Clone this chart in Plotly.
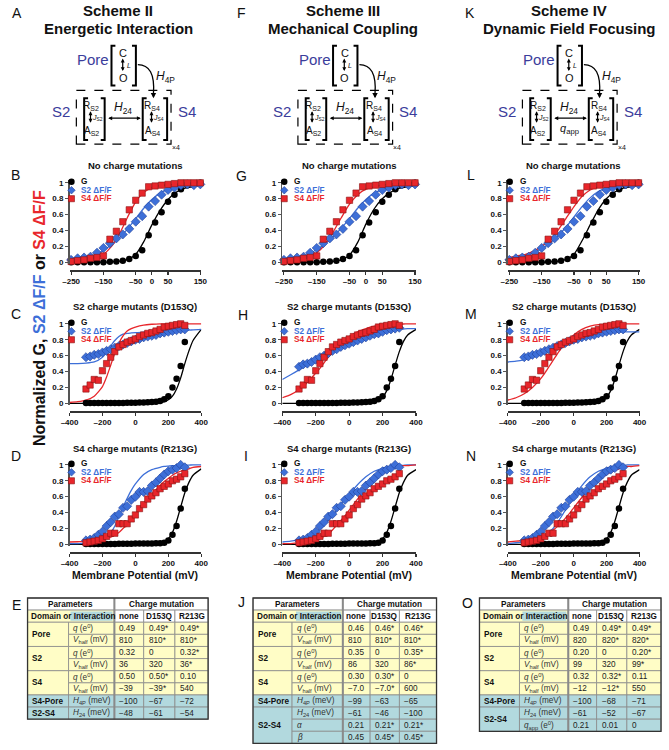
import plotly.graph_objects as go

W, H = 669, 750
FONT = "Arial, Liberation Sans, sans-serif"
BLUE = "#3d6fd8"
BLUE_EDGE = "#203f98"
RED = "#e8262b"
RED_EDGE = "#8b1212"
SCHEME_BLUE = "#3b3d9b"
YEL = "#fffdc6"
TEAL = "#b2d9de"

# ------------------------------------------------------------------ data
# Row 1: no charge mutations (experimental data, same in all schemes)
V_NOMUT = [-250, -230, -210, -190, -170, -150, -130, -110, -90, -70, -50, -30, -10, 10, 30, 50, 70, 90, 110, 130, 150]
G_NOMUT = [0, 0, 0, 0, 0, 0, 0.005, 0.01, 0.02, 0.04, 0.08, 0.15, 0.34, 0.50, 0.63, 0.76, 0.85, 0.92, 0.97, 0.99, 1.0]
S2_NOMUT = [0.03, 0.05, 0.06, 0.07, 0.12, 0.18, 0.24, 0.30, 0.35, 0.42, 0.51, 0.58, 0.70, 0.77, 0.85, 0.91, 0.94, 0.97, 0.98, 0.97, 0.98]
S4_NOMUT = [0.01, 0.02, 0.03, 0.05, 0.06, 0.08, 0.29, 0.39, 0.51, 0.66, 0.78, 0.87, 0.95, 0.96, 0.97, 0.98, 0.99, 1.0, 1.0, 1.0, 1.0]

# Rows 2-3: mutants
V_MUT = [-300, -275, -250, -225, -200, -175, -150, -125, -100, -75, -50, -25, 0, 25, 50, 75, 100, 125, 150, 175, 200, 225, 250, 275, 300]
G_D153Q = [0.005, 0.005, 0.005, 0.005, 0.005, 0.005, 0.005, 0.005, 0.005, 0.005, 0.007, 0.007, 0.008, 0.01, 0.01, 0.012, 0.015, 0.02, 0.03, 0.05, 0.09, 0.20, 0.31, 0.47, 0.77]
S2_D153Q = [0.58, 0.59, 0.61, 0.62, 0.64, 0.66, 0.68, 0.70, 0.72, 0.74, 0.76, 0.78, 0.80, 0.81, 0.83, 0.84, 0.85, 0.86, 0.88, 0.89, 0.90, 0.91, 0.92, 0.93, 0.93]
S2_D153Q_III = [0.46, 0.49, 0.50, 0.52, 0.55, 0.58, 0.60, 0.63, 0.66, 0.68, 0.71, 0.73, 0.75, 0.77, 0.79, 0.81, 0.83, 0.85, 0.87, 0.88, 0.90, 0.92, 0.93, 0.94, 0.95]
S4_D153Q = [0.18, 0.23, 0.30, 0.29, 0.41, 0.50, 0.58, 0.65, 0.71, 0.74, 0.77, 0.79, 0.81, 0.84, 0.86, 0.88, 0.89, 0.91, 0.93, 0.96, 0.97, 0.98, 0.99, 1.0, 0.98]
G_R213G = [0.005, 0.005, 0.005, 0.005, 0.005, 0.005, 0.005, 0.005, 0.007, 0.007, 0.008, 0.008, 0.01, 0.01, 0.01, 0.012, 0.012, 0.015, 0.015, 0.02, 0.05, 0.12, 0.23, 0.45, 0.70]
S2_R213G = [0.05, 0.06, 0.08, 0.12, 0.16, 0.23, 0.28, 0.35, 0.38, 0.46, 0.48, 0.56, 0.60, 0.66, 0.66, 0.67, 0.74, 0.78, 0.83, 0.88, 0.92, 0.94, 0.96, 1.0, 0.97]
S4_R213G = [0.02, 0.03, 0.04, 0.05, 0.07, 0.10, 0.14, 0.14, 0.26, 0.26, 0.26, 0.32, 0.37, 0.45, 0.50, 0.57, 0.61, 0.65, 0.70, 0.73, 0.76, 0.80, 0.82, 0.85, 0.89]

# Model fit curves
FIT_V_NARROW = [-250, -225, -200, -175, -150, -125, -100, -75, -50, -25, 0, 25, 50, 75, 100, 125, 150]
FIT_B_G = [0, 0, 0, 0.001, 0.002, 0.005, 0.013, 0.035, 0.10, 0.26, 0.47, 0.65, 0.79, 0.88, 0.93, 0.95, 0.97]
FIT_B_S2 = [0.03, 0.04, 0.06, 0.09, 0.15, 0.22, 0.31, 0.42, 0.55, 0.68, 0.79, 0.87, 0.92, 0.95, 0.96, 0.97, 0.97]
FIT_B_S4 = [0.01, 0.015, 0.03, 0.05, 0.10, 0.20, 0.36, 0.57, 0.76, 0.88, 0.94, 0.965, 0.975, 0.98, 0.985, 0.99, 0.99]
FIT_G_G = [0, 0, 0, 0.001, 0.002, 0.005, 0.012, 0.03, 0.09, 0.25, 0.48, 0.67, 0.80, 0.88, 0.93, 0.95, 0.96]
FIT_G_S2 = [0.04, 0.05, 0.07, 0.10, 0.16, 0.23, 0.32, 0.43, 0.55, 0.68, 0.79, 0.87, 0.91, 0.94, 0.95, 0.96, 0.96]
FIT_G_S4 = [0.01, 0.02, 0.03, 0.06, 0.12, 0.22, 0.38, 0.56, 0.73, 0.85, 0.92, 0.95, 0.97, 0.98, 0.98, 0.99, 0.99]
FIT_L_G = [0, 0, 0, 0.001, 0.002, 0.005, 0.013, 0.035, 0.10, 0.27, 0.47, 0.66, 0.80, 0.88, 0.93, 0.95, 0.97]
FIT_L_S2 = [0.05, 0.06, 0.08, 0.12, 0.17, 0.24, 0.33, 0.44, 0.57, 0.70, 0.81, 0.89, 0.93, 0.95, 0.96, 0.97, 0.97]
FIT_L_S4 = [0.06, 0.08, 0.10, 0.14, 0.20, 0.28, 0.40, 0.55, 0.70, 0.83, 0.91, 0.95, 0.97, 0.98, 0.98, 0.99, 0.99]

FIT_V_WIDE = [-400, -350, -300, -250, -200, -175, -150, -125, -100, -75, -50, -25, 0, 50, 100, 150, 175, 200, 225, 250, 275, 300, 325, 350, 400]
FIT_C_G = [0, 0, 0, 0, 0, 0, 0, 0, 0, 0, 0, 0, 0, 0.001, 0.003, 0.01, 0.02, 0.045, 0.09, 0.18, 0.32, 0.50, 0.66, 0.79, 0.93]
FIT_C_S2 = [0.50, 0.50, 0.505, 0.52, 0.58, 0.64, 0.72, 0.79, 0.84, 0.87, 0.88, 0.885, 0.89, 0.895, 0.90, 0.905, 0.91, 0.91, 0.915, 0.915, 0.92, 0.92, 0.92, 0.925, 0.93]
FIT_C_S4 = [0.01, 0.02, 0.04, 0.09, 0.21, 0.33, 0.48, 0.63, 0.76, 0.85, 0.91, 0.94, 0.96, 0.985, 0.995, 1, 1, 1, 1, 1, 1, 1, 1, 1, 1]
FIT_H_G = [0, 0, 0, 0, 0, 0, 0, 0, 0, 0, 0, 0, 0, 0.001, 0.004, 0.015, 0.035, 0.075, 0.16, 0.30, 0.48, 0.65, 0.78, 0.86, 0.93]
FIT_H_S2 = [0.30, 0.36, 0.42, 0.48, 0.54, 0.57, 0.60, 0.63, 0.66, 0.69, 0.72, 0.745, 0.77, 0.81, 0.85, 0.88, 0.89, 0.90, 0.91, 0.92, 0.925, 0.93, 0.935, 0.94, 0.94]
FIT_H_S4 = [0.07, 0.11, 0.17, 0.26, 0.38, 0.44, 0.51, 0.58, 0.64, 0.70, 0.75, 0.80, 0.84, 0.90, 0.94, 0.97, 0.98, 0.985, 0.99, 0.993, 0.995, 0.997, 0.998, 1, 1]
FIT_M_G = [0, 0, 0, 0, 0, 0, 0, 0, 0, 0, 0, 0, 0, 0.001, 0.004, 0.015, 0.035, 0.075, 0.16, 0.30, 0.48, 0.65, 0.78, 0.86, 0.93]
FIT_M_S2 = [0.52, 0.53, 0.55, 0.58, 0.62, 0.64, 0.67, 0.70, 0.73, 0.76, 0.79, 0.815, 0.84, 0.87, 0.885, 0.89, 0.892, 0.894, 0.896, 0.898, 0.899, 0.90, 0.90, 0.90, 0.90]
FIT_M_S4 = [0.04, 0.07, 0.12, 0.20, 0.31, 0.38, 0.46, 0.54, 0.62, 0.69, 0.76, 0.81, 0.86, 0.93, 0.97, 0.99, 0.99, 1, 1, 1, 1, 1, 1, 1, 1]
FIT_D_G = [0, 0, 0, 0, 0, 0, 0, 0, 0, 0, 0, 0, 0, 0.001, 0.003, 0.012, 0.03, 0.07, 0.15, 0.29, 0.47, 0.65, 0.78, 0.87, 0.95]
FIT_D_S2 = [0.01, 0.01, 0.015, 0.025, 0.05, 0.08, 0.14, 0.23, 0.35, 0.47, 0.58, 0.68, 0.76, 0.88, 0.94, 0.97, 0.98, 0.985, 0.99, 0.993, 0.995, 0.997, 0.998, 1, 1]
FIT_D_S4 = [0.03, 0.033, 0.037, 0.045, 0.06, 0.075, 0.09, 0.12, 0.15, 0.20, 0.25, 0.31, 0.38, 0.50, 0.63, 0.74, 0.79, 0.83, 0.87, 0.90, 0.92, 0.94, 0.95, 0.97, 0.98]
FIT_I_G = [0, 0, 0, 0, 0, 0, 0, 0, 0, 0, 0, 0, 0, 0.001, 0.003, 0.012, 0.03, 0.07, 0.15, 0.29, 0.47, 0.65, 0.78, 0.87, 0.94]
FIT_I_S2 = [0.03, 0.04, 0.06, 0.10, 0.15, 0.19, 0.24, 0.30, 0.36, 0.43, 0.50, 0.57, 0.63, 0.75, 0.85, 0.92, 0.94, 0.96, 0.97, 0.98, 0.985, 0.99, 0.995, 1, 1]
FIT_I_S4 = [0.01, 0.01, 0.02, 0.03, 0.05, 0.07, 0.10, 0.13, 0.18, 0.24, 0.30, 0.36, 0.43, 0.57, 0.70, 0.80, 0.85, 0.89, 0.92, 0.95, 0.97, 0.98, 0.99, 0.99, 1]
FIT_N_G = [0, 0, 0, 0, 0, 0, 0, 0, 0, 0, 0, 0, 0, 0.001, 0.003, 0.012, 0.03, 0.07, 0.15, 0.29, 0.47, 0.65, 0.78, 0.87, 0.94]
FIT_N_S2 = [0.01, 0.02, 0.03, 0.05, 0.08, 0.11, 0.15, 0.20, 0.27, 0.35, 0.43, 0.52, 0.60, 0.74, 0.85, 0.92, 0.94, 0.96, 0.97, 0.98, 0.99, 0.99, 1, 1, 1]
FIT_N_S4 = [0.03, 0.04, 0.05, 0.07, 0.09, 0.11, 0.14, 0.18, 0.22, 0.27, 0.33, 0.39, 0.46, 0.59, 0.71, 0.80, 0.84, 0.88, 0.91, 0.93, 0.95, 0.97, 0.98, 0.98, 0.99]

ROW_TITLES = ["No charge mutations", "S2 charge mutants (D153Q)", "S4 charge mutants (R213G)"]
ROW_XTICKS = [[-250, -150, -50, 0, 50, 150], [-400, -200, 0, 200, 400], [-400, -200, 0, 200, 400]]
ROW_XTICKTEXT = [["–250", "–150", "–50", "0", "50", "150"], ["–400", "–200", "0", "200", "400"], ["–400", "–200", "0", "200", "400"]]
ROW_XRANGE = [[-255, 153], [-400, 400], [-400, 400]]
Y_TICKS = [0, 0.2, 0.4, 0.6, 0.8, 1]
Y_TICKTEXT = ["0", "0.2", "0.4", "0.6", "0.8", "1"]
LEGEND_LABELS = ["G", "S2 ΔF/F", "S4 ΔF/F"]
PANEL_LETTERS = [["B", "G", "L"], ["C", "H", "M"], ["D", "I", "N"]]

SCHEME_NAMES = ["Scheme II", "Scheme III", "Scheme IV"]
SCHEME_SUBTITLES = ["Energetic Interaction", "Mechanical Coupling", "Dynamic Field Focusing"]
SCHEME_LETTERS = ["A", "F", "K"]
TABLE_LETTERS = ["E", "J", "O"]
MUTATIONS = ["none", "D153Q", "R213G"]

LBL_Q = "<i>q</i> (e<sup>0</sup>)"
LBL_V = "<i>V</i><sub>half</sub> (mV)"
LBL_H4P = "<i>H</i><sub>4P</sub> (meV)"
LBL_H24 = "<i>H</i><sub>24</sub> (meV)"
LBL_A = "<i>α</i>"
LBL_B = "<i>β</i>"
LBL_QAPP = "<i>q</i><sub>app</sub> (e<sup>0</sup>)"

E_DOMAINS = [("Pore", 2), ("S2", 2), ("S4", 2), ("S4-Pore", 1), ("S2-S4", 1)]
E_PARAMS = [LBL_Q, LBL_V, LBL_Q, LBL_V, LBL_Q, LBL_V, LBL_H4P, LBL_H24]
E_NONE = ["0.49", "810", "0.32", "36", "0.50", "−39", "−100", "−48"]
E_D153Q = ["0.49*", "810*", "0", "320", "0.50*", "−39*", "−67", "−61"]
E_R213G = ["0.49*", "810*", "0.32*", "36*", "0.10", "540", "−72", "−54"]

J_DOMAINS = [("Pore", 2), ("S2", 2), ("S4", 2), ("S4-Pore", 1), ("S2-S4", 3)]
J_PARAMS = [LBL_Q, LBL_V, LBL_Q, LBL_V, LBL_Q, LBL_V, LBL_H4P, LBL_H24, LBL_A, LBL_B]
J_NONE = ["0.46", "810", "0.35", "86", "0.30", "−7.0", "−99", "−61", "0.21", "0.45"]
J_D153Q = ["0.46*", "810*", "0", "320", "0.30*", "−7.0*", "−63", "−46", "0.21*", "0.45*"]
J_R213G = ["0.46*", "810*", "0.35*", "86*", "0", "600", "−65", "−100", "0.21*", "0.45*"]

O_DOMAINS = [("Pore", 2), ("S2", 2), ("S4", 2), ("S4-Pore", 1), ("S2-S4", 2)]
O_PARAMS = [LBL_Q, LBL_V, LBL_Q, LBL_V, LBL_Q, LBL_V, LBL_H4P, LBL_H24, LBL_QAPP]
O_NONE = ["0.49", "820", "0.20", "99", "0.32", "−12", "−100", "−61", "0.21"]
O_D153Q = ["0.49*", "820*", "0", "320", "0.32*", "−12*", "−68", "−52", "0.01"]
O_R213G = ["0.49*", "820*", "0.20*", "99*", "0.11", "550", "−71", "−67", "0"]

# ------------------------------------------------------------------ geometry (window pixels)
COL_X = [(62, 197), (280, 417), (511, 646)]
ROW_Y = [(182, 262), (324, 404), (466, 546)]
YR = [-0.02, 1.03]


def PX(x):
    return x / W


def PY(y):
    return 1 - y / H


annotations = []
shapes = []


def txt(x, y, s, size=9, color="#111", anchor="center", angle=0, bold=False):
    if bold:
        s = "<b>" + s + "</b>"
    annotations.append(dict(xref="paper", yref="paper", x=PX(x), y=PY(y), text=s, showarrow=False,
                            xanchor=anchor, yanchor="middle", textangle=angle,
                            font=dict(family=FONT, size=size, color=color)))


def path(pts, width=2.0, color="black", fill=None, closed=False):
    d = "M " + " L ".join(f"{PX(x):.5f},{PY(y):.5f}" for x, y in pts)
    if closed:
        d += " Z"
    sh = dict(type="path", xref="paper", yref="paper", path=d, line=dict(color=color, width=width))
    if fill:
        sh["fillcolor"] = fill
    shapes.append(sh)


def rect(x0, y0, x1, y1, fill="rgba(0,0,0,0)", lw=0.8, lc="#8a8a8a", dash="solid"):
    shapes.append(dict(type="rect", xref="paper", yref="paper", x0=PX(x0), x1=PX(x1), y0=PY(y1), y1=PY(y0),
                       fillcolor=fill, line=dict(color=lc, width=lw, dash=dash)))


def arrow(x, y, ax, ay, both=True, width=1.2, size=0.65):
    annotations.append(dict(xref="paper", yref="paper", x=PX(x), y=PY(y), ax=ax, ay=ay,
                            axref="pixel", ayref="pixel", text="", showarrow=True, arrowhead=2,
                            arrowside="end+start" if both else "end", arrowsize=size,
                            arrowwidth=width, arrowcolor="black", standoff=0, startstandoff=0))


def bracket(x0, x1, y0, y1, tab=4, width=2.0):
    path([(x0 + tab, y0), (x0, y0), (x0, y1), (x0 + tab, y1)], width=width)
    path([(x1 - tab, y0), (x1, y0), (x1, y1), (x1 - tab, y1)], width=width)


# ------------------------------------------------------------------ schemes
SCHEME_OX = [0, 227, 457]
SCHEME_TX = [112, 342, 574]
SCHEME_LX = [8, 238, 472]
for k in range(3):
    ox = SCHEME_OX[k]
    txt(SCHEME_LX[k], 11, SCHEME_LETTERS[k], size=14)
    txt(SCHEME_TX[k], 9, SCHEME_NAMES[k], size=15, bold=True)
    txt(SCHEME_TX[k], 27, SCHEME_SUBTITLES[k], size=15, bold=True)
    txt(ox + 86, 58, "Pore", size=15, color=SCHEME_BLUE)
    bracket(ox + 105, ox + 130, 44, 84)
    txt(ox + 117, 51, "C", size=11)
    txt(ox + 117, 77, "O", size=11)
    arrow(ox + 116.5, 57, 0, 14)
    txt(ox + 122.5, 64, "<i>L</i>", size=7)
    # curved H4P arrow
    shapes.append(dict(type="path", xref="paper", yref="paper",
                       path=f"M {PX(ox+132):.5f},{PY(63):.5f} Q {PX(ox+150):.5f},{PY(63):.5f} {PX(ox+148):.5f},{PY(92):.5f}",
                       line=dict(color="black", width=1.3)))
    arrow(ox + 148, 97, 0, -6, both=False, size=0.9)
    txt(ox + 160, 76, "<i>H</i><sub>4P</sub>", size=12)
    # dashed subunit box
    rect(ox + 69, 89, ox + 166, 143, lw=1.2, lc="black", dash="dash")
    txt(ox + 171, 146, "×4", size=7)
    txt(ox + 53, 110, "S2", size=15, color=SCHEME_BLUE)
    txt(ox + 182, 110, "S4", size=15, color=SCHEME_BLUE)
    for bx0, bx1, lab in [(ox + 77, ox + 98, "S2"), (ox + 137, ox + 162, "S4")]:
        bracket(bx0, bx1, 97, 139)
        cx = bx0 + 6.5 if lab == "S2" else bx0 + 9
        txt(cx + 1, 105, f"R<sub>{lab}</sub>", size=10)
        arrow(cx, 110, 0, 13)
        txt(cx + 7.5, 117, f"<i>J</i><sub>{lab}</sub>", size=7)
        txt(cx + 1, 130, f"A<sub>{lab}</sub>", size=10)
    arrow(ox + 135, 117, -34, 0)
    txt(ox + 117, 107, "<i>H</i><sub>24</sub>", size=12)
    if k == 2:
        txt(ox + 117, 128, "<i>q</i><sub>app</sub>", size=11)

# ------------------------------------------------------------------ plots
fig = go.Figure()

PANEL_DATA = [
    [(V_NOMUT, G_NOMUT, S2_NOMUT, S4_NOMUT, FIT_V_NARROW, FIT_B_G, FIT_B_S2, FIT_B_S4),
     (V_NOMUT, G_NOMUT, S2_NOMUT, S4_NOMUT, FIT_V_NARROW, FIT_G_G, FIT_G_S2, FIT_G_S4),
     (V_NOMUT, G_NOMUT, S2_NOMUT, S4_NOMUT, FIT_V_NARROW, FIT_L_G, FIT_L_S2, FIT_L_S4)],
    [(V_MUT, G_D153Q, S2_D153Q, S4_D153Q, FIT_V_WIDE, FIT_C_G, FIT_C_S2, FIT_C_S4),
     (V_MUT, G_D153Q, S2_D153Q_III, S4_D153Q, FIT_V_WIDE, FIT_H_G, FIT_H_S2, FIT_H_S4),
     (V_MUT, G_D153Q, S2_D153Q, S4_D153Q, FIT_V_WIDE, FIT_M_G, FIT_M_S2, FIT_M_S4)],
    [(V_MUT, G_R213G, S2_R213G, S4_R213G, FIT_V_WIDE, FIT_D_G, FIT_D_S2, FIT_D_S4),
     (V_MUT, G_R213G, S2_R213G, S4_R213G, FIT_V_WIDE, FIT_I_G, FIT_I_S2, FIT_I_S4),
     (V_MUT, G_R213G, S2_R213G, S4_R213G, FIT_V_WIDE, FIT_N_G, FIT_N_S2, FIT_N_S4)],
]

layout_axes = {}
LETTER_POS = [[(7, 174), (238, 175), (473, 174)], [(7, 314), (240, 315), (473, 314)], [(7, 457), (243, 457), (473, 457)]]
for r in range(3):
    for c in range(3):
        i = r * 3 + c + 1
        xa = "x" if i == 1 else f"x{i}"
        ya = "y" if i == 1 else f"y{i}"
        v, g, s2, s4, fv, fg, fs2, fs4 = PANEL_DATA[r][c]
        for yy, col in [(fg, "black"), (fs2, BLUE), (fs4, RED)]:
            fig.add_trace(go.Scatter(x=fv, y=yy, mode="lines", xaxis=xa, yaxis=ya, showlegend=False,
                                     hoverinfo="skip", line=dict(color=col, width=1.3, shape="spline", smoothing=0.6)))
        fig.add_trace(go.Scatter(x=v, y=g, mode="markers", xaxis=xa, yaxis=ya, showlegend=False, cliponaxis=False,
                                 hoverinfo="skip", marker=dict(symbol="circle", size=6.5, color="black")))
        fig.add_trace(go.Scatter(x=v, y=s2, mode="markers", xaxis=xa, yaxis=ya, showlegend=False, cliponaxis=False,
                                 hoverinfo="skip",
                                 marker=dict(symbol="diamond", size=7, color=BLUE, line=dict(color=BLUE_EDGE, width=0.6))))
        fig.add_trace(go.Scatter(x=v, y=s4, mode="markers", xaxis=xa, yaxis=ya, showlegend=False, cliponaxis=False,
                                 hoverinfo="skip",
                                 marker=dict(symbol="square", size=6.3, color=RED, line=dict(color=RED_EDGE, width=0.6))))
        x0, x1 = COL_X[c]
        top, bot = ROW_Y[r]
        ppu = (bot - top)
        ydom = [PY(bot - YR[0] * ppu), PY(top - (YR[1] - 1) * ppu)]
        layout_axes["xaxis" if i == 1 else f"xaxis{i}"] = dict(
            domain=[PX(x0), PX(x1)], range=ROW_XRANGE[r], anchor="free", position=PY(bot + 8),
            showline=True, linecolor="#333", linewidth=1.3, ticks="outside", ticklen=3, tickwidth=1.1,
            tickcolor="#333", tickvals=ROW_XTICKS[r], ticktext=ROW_XTICKTEXT[r], showgrid=False, zeroline=False,
            tickfont=dict(family=FONT, size=8, color="#111", weight="bold"))
        layout_axes["yaxis" if i == 1 else f"yaxis{i}"] = dict(
            domain=ydom, range=YR, anchor=xa, showline=True, linecolor="#555", linewidth=1.5,
            ticks="outside", ticklen=3, tickwidth=1.1, tickcolor="#555", tickvals=Y_TICKS, ticktext=Y_TICKTEXT,
            showgrid=False, zeroline=False, tickfont=dict(family=FONT, size=8, color="#111", weight="bold"))
        # titles, letters
        txt((x0 + x1) / 2, top - 17, ROW_TITLES[r], size=9.5, bold=True)
        lx, ly = LETTER_POS[r][c]
        txt(lx, ly, PANEL_LETTERS[r][c], size=14)
        # legend
        for j, (lab, col) in enumerate(zip(LEGEND_LABELS, ["#111", BLUE, RED])):
            ly = top - 1 + 8.5 * j
            mx = x0 + 2
            if j == 0:
                shapes.append(dict(type="circle", xref="paper", yref="paper", x0=PX(mx - 3.3), x1=PX(mx + 3.3),
                                   y0=PY(ly + 3.3), y1=PY(ly - 3.3), fillcolor="black", line=dict(width=0)))
            elif j == 1:
                path([(mx, ly - 3.8), (mx + 3.8, ly), (mx, ly + 3.8), (mx - 3.8, ly)], width=0.6, color=BLUE_EDGE, fill=BLUE, closed=True)
            else:
                rect(mx - 3.1, ly - 3.1, mx + 3.1, ly + 3.1, fill=RED, lw=0.6, lc=RED_EDGE)
            txt(x0 + 10, ly, lab, size=8.2, color=col, anchor="left", bold=True)
        if r == 2:
            txt((x0 + x1) / 2, 577, "Membrane Potential (mV)", size=10.5, bold=True)

# shared y title
txt(32, 318, "Normalized G, <span style='color:%s'>S2 ΔF/F</span> or <span style='color:%s'>S4 ΔF/F</span>" % (BLUE, RED),
    size=16, angle=-90, bold=True)

# ------------------------------------------------------------------ tables
TABLES = [
    ([19, 61, 108, 138, 170, 204], E_DOMAINS, E_PARAMS, [E_NONE, E_D153Q, E_R213G]),
    ([250, 290, 342, 370, 400, 438], J_DOMAINS, J_PARAMS, [J_NONE, J_D153Q, J_R213G]),
    ([482, 523, 573, 602, 633, 668], O_DOMAINS, O_PARAMS, [O_NONE, O_D153Q, O_R213G]),
]
TABLE_LETTER_POS = [(8, 607), (238, 604), (470, 605)]
RH = 12.2
TOP = 600
FS = 8.2
for t, (xe, doms, params, cols) in enumerate(TABLES):
    def ry(k):
        return TOP + k * RH
    txt(TABLE_LETTER_POS[t][0], TABLE_LETTER_POS[t][1], TABLE_LETTERS[t], size=14)
    rect(xe[0], ry(0), xe[2], ry(1), fill="white")
    rect(xe[2], ry(0), xe[5], ry(1), fill="white")
    txt((xe[0] + xe[2]) / 2, ry(0.5), "Parameters", size=FS, bold=True)
    txt((xe[2] + xe[5]) / 2, ry(0.5), "Charge mutation", size=FS, bold=True)
    rect(xe[0], ry(1), xe[2], ry(2), fill=YEL)
    rect(xe[0] + 44, ry(1) + 1.5, xe[2] - 2, ry(2) - 1.5, fill=TEAL, lw=0)
    txt(xe[0] + 2, ry(1.5), "Domain or Interaction", size=FS, anchor="left", bold=True)
    for m in range(3):
        rect(xe[2 + m], ry(1), xe[3 + m], ry(2), fill="white")
        txt((xe[2 + m] + xe[3 + m]) / 2, ry(1.5), MUTATIONS[m], size=FS, bold=True)
    k = 2
    pi = 0
    for dname, span in doms:
        fill = YEL if dname in ("Pore", "S2", "S4") else TEAL
        rect(xe[0], ry(k), xe[1], ry(k + span), fill=fill)
        txt(xe[0] + 3, ry(k + span / 2), dname, size=FS, anchor="left", bold=True)
        for s in range(span):
            rect(xe[1], ry(k + s), xe[2], ry(k + s + 1), fill=fill)
            txt(xe[1] + 3, ry(k + s + 0.5), params[pi], size=FS, anchor="left", color="#333")
            for m in range(3):
                rect(xe[2 + m], ry(k + s), xe[3 + m], ry(k + s + 1), fill=fill)
                txt(xe[2 + m] + 3, ry(k + s + 0.5), cols[m][pi], size=FS, anchor="left", color="#222")
            pi += 1
        k += span
    path([(xe[2], ry(0)), (xe[2], ry(k))], width=2, color="#8a8a8a")
    rect(xe[0], ry(0), xe[5], ry(k), lw=1.3, lc="#333")

fig.update_layout(
    width=W, height=H, margin=dict(l=0, r=0, t=0, b=0), paper_bgcolor="white", plot_bgcolor="white",
    showlegend=False, hovermode=False, annotations=annotations, shapes=shapes, font=dict(family=FONT),
    **layout_axes)

# remove the browser's default 8px body margin so the figure fills the window exactly
fig.write_html("out.html", config={"displayModeBar": False, "staticPlot": True},
               post_script="document.body.style.margin='0px';")
